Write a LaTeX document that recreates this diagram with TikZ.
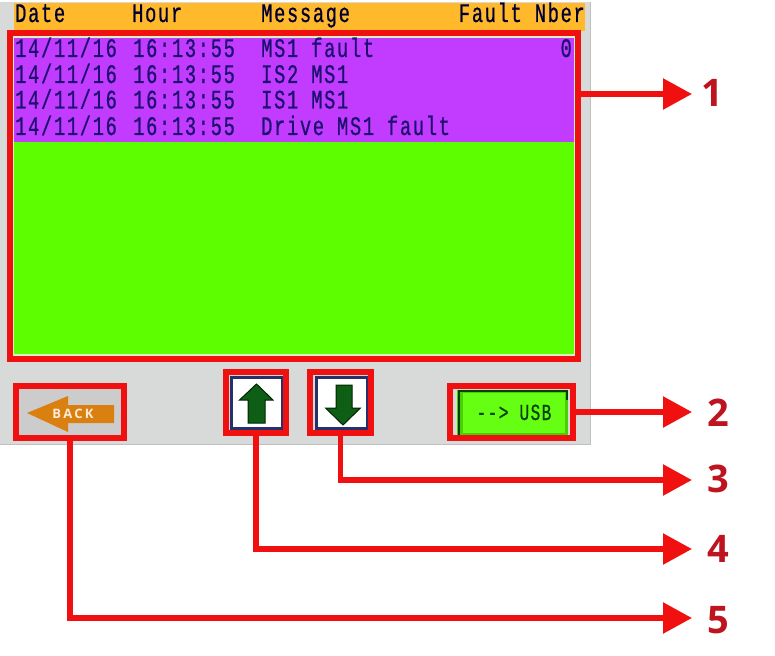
\documentclass[tikz,border=0pt]{standalone}
\usepackage{fontspec}
\usetikzlibrary{arrows.meta}
\newfontfamily\lcd[FakeStretch=0.7,LetterSpace=6.2,FakeBold=0.7]{Liberation Mono}
\newfontfamily\lab{Open Sans}
\definecolor{scr}{HTML}{D8DADA}
\definecolor{barc}{HTML}{FFB92A}
\definecolor{purp}{HTML}{C13CFF}
\definecolor{lime}{HTML}{5DFF00}
\definecolor{pale}{HTML}{D8F0C8}
\definecolor{rd}{HTML}{F01010}
\definecolor{labc}{HTML}{BE1420}
\definecolor{ink}{HTML}{1E1070}
\definecolor{navy}{HTML}{26306A}
\definecolor{dgreen}{HTML}{0E5E16}
\definecolor{orng}{HTML}{D98010}
\definecolor{usbface}{HTML}{66FF14}
\definecolor{usbedge}{HTML}{48D000}
\tikzset{
  x=1pt,y=-1pt,
  lcdtext/.style={font=\lcd\fontsize{26.8}{27}\selectfont,text=ink,inner sep=0pt,anchor=base west},
  headtext/.style={lcdtext,text=black!80!blue},
  redbox/.style={draw=rd,line width=6pt,inner sep=0pt,outer sep=0pt,anchor=north west,line join=miter},
  callout/.style={draw=rd,line width=5.500pt,line join=miter,-{Triangle[length=29pt,width=30pt]},shorten >=0pt},
  numlabel/.style={font=\lab\fontsize{38}{38}\selectfont\bfseries,text=labc,inner sep=0pt},
  keyface/.style={draw=navy,line width=3pt,fill=white},
  keyarrow/.style={fill=dgreen,draw=black!85!green,line width=1pt,line join=miter}
}
\begin{document}
\begin{tikzpicture}
\useasboundingbox (0,0) rectangle (775,655);
\fill[white] (0,0) rectangle (775,655);
% screen
\fill[scr] (0,2) rectangle (590.5,444.5);
\draw[black!25,line width=.6pt] (0,444.5) -- (590.5,444.5) -- (590.5,2);
\fill[barc] (14,3) rectangle (585,31);
\fill[pale] (13,36) rectangle (575,356);
\fill[purp] (14,38) rectangle (574,142);
\fill[lime] (14,142) rectangle (574,354);
% header
\node[headtext] (hdate) at (15,22) {Date};
\node[headtext] (hhour) at (132,22) {Hour};
\node[headtext] (hmsg) at (261,22) {Message};
\node[headtext,anchor=base east] (hfault) at (585,22) {Fault Nber};
% rows
\node[lcdtext] (r1d) at (15,57) {14/11/16};
\node[lcdtext] (r1h) at (133,57) {16:13:55};
\node[lcdtext] (r1m) at (261,57) {MS1 fault};
\node[lcdtext,anchor=base east] (r1n) at (572,57) {0};
\node[lcdtext] (r2d) at (15,83) {14/11/16};
\node[lcdtext] (r2h) at (133,83) {16:13:55};
\node[lcdtext] (r2m) at (261,83) {IS2 MS1};
\node[lcdtext] (r3d) at (15,108.500) {14/11/16};
\node[lcdtext] (r3h) at (133,108.500) {16:13:55};
\node[lcdtext] (r3m) at (261,108.500) {IS1 MS1};
\node[lcdtext] (r4d) at (15,135) {14/11/16};
\node[lcdtext] (r4h) at (133,135) {16:13:55};
\node[lcdtext] (r4m) at (261,135) {Drive MS1 fault};
% back button
\fill[black!20] (19,389) rectangle (121,435);
\path[fill=orng] (27,413) -- (68,396) -- (68,405) -- (114,405) -- (114,423) -- (68,423) -- (68,432) -- cycle;
\node[font=\lab\bfseries\fontsize{13}{13}\selectfont,text=white!85!orange,inner sep=0pt] (backt) at (73,414) {B\,A\,C\,K};
% up key
\draw[keyface] (231.500,377.500) rectangle (282.500,428);
\path[keyarrow] (256.500,384) -- (273,400) -- (265,400) -- (265,423) -- (248,423) -- (248,400) -- (239.500,400) -- cycle;
% down key
\draw[keyface] (316.500,377.500) rectangle (367,428);
\path[keyarrow] (343,425) -- (360.500,408) -- (352,408) -- (352,385) -- (336,385) -- (336,408) -- (325.500,408) -- cycle;
% usb key
\fill[usbedge] (457,390) rectangle (568,435);
\fill[usbface] (463,393) rectangle (565,433);
\draw[black!75!green,line width=1.6pt] (459,435) -- (459,391) -- (567,391) -- (567,400);
\node[font=\lcd\fontsize{23}{23}\selectfont,text=black!75!green,inner sep=0pt,anchor=base] (usbt) at (514,420) {-{}-> USB};
% red frames
\node[redbox,minimum width=568pt,minimum height=326pt] (box1) at (10,33) {};
\node[redbox,minimum width=123pt,minimum height=52pt] (box2) at (450,386) {};
\node[redbox,minimum width=61pt,minimum height=61pt] (box3) at (310,372) {};
\node[redbox,minimum width=60pt,minimum height=61pt] (box4) at (226,372) {};
\node[redbox,minimum width=108pt,minimum height=52pt] (box5) at (16,386) {};
% labels and arrow ends
\node[numlabel] (lab1) at (712,93) {1};
\node[numlabel] (lab2) at (718,413) {2};
\node[numlabel] (lab3) at (718,479) {3};
\node[numlabel] (lab4) at (718,549) {4};
\node[numlabel] (lab5) at (718,620) {5};
\coordinate (tip1) at (692,94);
\coordinate (tip2) at (692,412);
\coordinate (tip3) at (692,480);
\coordinate (tip4) at (692,549);
\coordinate (tip5) at (692,618);
% connectors
\draw[callout] (box1.east |- tip1) -- (tip1);
\draw[callout] (box2.east |- tip2) -- (tip2);
\draw[callout] (box3.south) |- (tip3);
\draw[callout] (box4.south) |- (tip4);
\draw[callout] (box5.south) |- (tip5);
\end{tikzpicture}
\end{document}
